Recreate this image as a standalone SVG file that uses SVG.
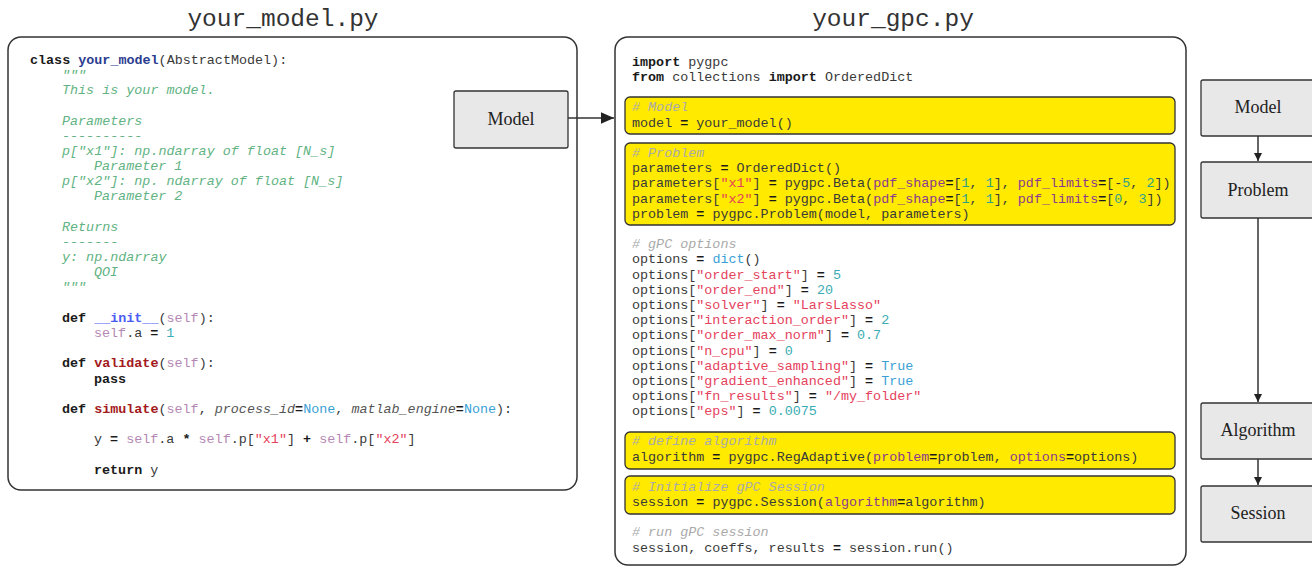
<svg xmlns="http://www.w3.org/2000/svg" width="1312" height="568" viewBox="0 0 1312 568">
<defs>
<style>
.code{font-family:"Liberation Mono",monospace;font-size:13.4px;fill:#3a3a3a}
.title{font-family:"Liberation Mono",monospace;font-size:24.5px;fill:#333;text-anchor:middle}
.lbl{font-family:"Liberation Serif","DejaVu Serif",serif;font-size:18px;fill:#222;text-anchor:middle}
.b{font-weight:bold;fill:#1a1a1a}
.doc{fill:#62b383;font-style:italic}
.cm{fill:#aaaaaa;font-style:italic}
.cls{fill:#2b3d8f;font-weight:bold}
.ini{fill:#4b5cf5;font-weight:bold}
.fn{fill:#a3191c;font-weight:bold}
.slf{fill:#b487b4}
.num{fill:#3aacb4}
.nn{fill:#2ea08a}
.non{fill:#3b9fd6}
.str{fill:#e5425c}
.kw{fill:#8b3a8f}
.it{font-style:italic;fill:#555}
.frame{fill:#fff;stroke:#333;stroke-width:1.5}
.hl{fill:#ffea00;stroke:#333;stroke-width:1.3}
.node{fill:#e8e8e8;stroke:#333;stroke-width:1.3}
.conn{stroke:#333;stroke-width:1.5;fill:none}
</style>
<marker id="ah" viewBox="0 0 10 10" refX="10" refY="5" markerWidth="8" markerHeight="9" markerUnits="userSpaceOnUse" orient="auto">
<path d="M0,0 L10,5 L0,10 z" fill="#222"/>
</marker>
<marker id="ahL" viewBox="0 0 10 10" refX="10" refY="5" markerWidth="15" markerHeight="13" markerUnits="userSpaceOnUse" orient="auto">
<path d="M0,0.5 L10,5 L0,9.5 z" fill="#222"/>
</marker>
</defs>

<g id="titles">
<text class="title" x="283" y="26">your_model.py</text>
<text class="title" x="893" y="26">your_gpc.py</text>
</g>

<g id="your_model_py">
<rect class="frame" x="8" y="37" width="569" height="453" rx="13"/>
<text class="code" xml:space="preserve">
<tspan x="30" y="64"><tspan class="b">class</tspan> <tspan class="cls">your_model</tspan>(AbstractModel):</tspan>
<tspan x="62" y="79" class="doc">"""</tspan>
<tspan x="62" y="94" class="doc">This is your model.</tspan>
<tspan x="62" y="125" class="doc">Parameters</tspan>
<tspan x="62" y="140" class="doc">----------</tspan>
<tspan x="62" y="155" class="doc">p["x1"]: np.ndarray of float [N_s]</tspan>
<tspan x="94" y="170" class="doc">Parameter 1</tspan>
<tspan x="62" y="185" class="doc">p["x2"]: np. ndarray of float [N_s]</tspan>
<tspan x="94" y="200" class="doc">Parameter 2</tspan>
<tspan x="62" y="231" class="doc">Returns</tspan>
<tspan x="62" y="246" class="doc">-------</tspan>
<tspan x="62" y="261" class="doc">y: np.ndarray</tspan>
<tspan x="94" y="276" class="doc">QOI</tspan>
<tspan x="62" y="291" class="doc">"""</tspan>
<tspan x="62" y="322"><tspan class="b">def</tspan> <tspan class="ini">__init__</tspan>(<tspan class="slf">self</tspan>):</tspan>
<tspan x="94" y="337"><tspan class="slf">self</tspan>.a <tspan class="b">=</tspan> <tspan class="num">1</tspan></tspan>
<tspan x="62" y="367"><tspan class="b">def</tspan> <tspan class="fn">validate</tspan>(<tspan class="slf">self</tspan>):</tspan>
<tspan x="94" y="383" class="b">pass</tspan>
<tspan x="62" y="413"><tspan class="b">def</tspan> <tspan class="fn">simulate</tspan>(<tspan class="slf">self</tspan>, <tspan class="it">process_id</tspan><tspan class="b">=</tspan><tspan class="non">None</tspan>, <tspan class="it">matlab_engine</tspan><tspan class="b">=</tspan><tspan class="non">None</tspan>):</tspan>
<tspan x="94" y="443">y <tspan class="b">=</tspan> <tspan class="slf">self</tspan>.a <tspan class="b">*</tspan> <tspan class="slf">self</tspan>.p[<tspan class="str">"x1"</tspan>] <tspan class="b">+</tspan> <tspan class="slf">self</tspan>.p[<tspan class="str">"x2"</tspan>]</tspan>
<tspan x="94" y="474"><tspan class="b">return</tspan> y</tspan>
</text>
</g>

<g id="node_model_left">
<rect class="node" x="454" y="91" width="114" height="57" rx="2"/>
<text class="lbl" x="511" y="125">Model</text>
</g>

<g id="your_gpc_py">
<rect class="frame" x="615" y="37" width="571" height="528" rx="13"/>
<rect class="hl" x="625" y="97" width="550" height="37" rx="5"/>
<rect class="hl" x="625" y="143" width="550" height="82" rx="5"/>
<rect class="hl" x="625" y="432" width="550" height="37" rx="5"/>
<rect class="hl" x="625" y="476" width="550" height="38" rx="5"/>
<text class="code" xml:space="preserve">
<tspan x="632" y="66"><tspan class="b">import</tspan> pygpc</tspan>
<tspan x="632" y="81"><tspan class="b">from</tspan> collections <tspan class="b">import</tspan> OrderedDict</tspan>
<tspan x="632" y="111" class="cm"># Model</tspan>
<tspan x="632" y="127">model <tspan class="b">=</tspan> your_model()</tspan>
<tspan x="632" y="157" class="cm"># Problem</tspan>
<tspan x="632" y="172">parameters <tspan class="b">=</tspan> OrderedDict()</tspan>
<tspan x="632" y="187">parameters[<tspan class="str">"x1"</tspan>] <tspan class="b">=</tspan> pygpc.Beta(<tspan class="kw">pdf_shape</tspan><tspan class="b">=</tspan>[<tspan class="nn">1</tspan>, <tspan class="nn">1</tspan>], <tspan class="kw">pdf_limits</tspan><tspan class="b">=</tspan>[-<tspan class="nn">5</tspan>, <tspan class="nn">2</tspan>])</tspan>
<tspan x="632" y="203">parameters[<tspan class="str">"x2"</tspan>] <tspan class="b">=</tspan> pygpc.Beta(<tspan class="kw">pdf_shape</tspan><tspan class="b">=</tspan>[<tspan class="nn">1</tspan>, <tspan class="nn">1</tspan>], <tspan class="kw">pdf_limits</tspan><tspan class="b">=</tspan>[<tspan class="nn">0</tspan>, <tspan class="nn">3</tspan>])</tspan>
<tspan x="632" y="218">problem <tspan class="b">=</tspan> pygpc.Problem(model, parameters)</tspan>
<tspan x="632" y="248" class="cm"># gPC options</tspan>
<tspan x="632" y="263">options <tspan class="b">=</tspan> <tspan class="non">dict</tspan>()</tspan>
<tspan x="632" y="279">options[<tspan class="str">"order_start"</tspan>] <tspan class="b">=</tspan> <tspan class="num">5</tspan></tspan>
<tspan x="632" y="294">options[<tspan class="str">"order_end"</tspan>] <tspan class="b">=</tspan> <tspan class="num">20</tspan></tspan>
<tspan x="632" y="309">options[<tspan class="str">"solver"</tspan>] <tspan class="b">=</tspan> <tspan class="str">"LarsLasso"</tspan></tspan>
<tspan x="632" y="324">options[<tspan class="str">"interaction_order"</tspan>] <tspan class="b">=</tspan> <tspan class="num">2</tspan></tspan>
<tspan x="632" y="339">options[<tspan class="str">"order_max_norm"</tspan>] <tspan class="b">=</tspan> <tspan class="num">0.7</tspan></tspan>
<tspan x="632" y="355">options[<tspan class="str">"n_cpu"</tspan>] <tspan class="b">=</tspan> <tspan class="num">0</tspan></tspan>
<tspan x="632" y="370">options[<tspan class="str">"adaptive_sampling"</tspan>] <tspan class="b">=</tspan> <tspan class="non">True</tspan></tspan>
<tspan x="632" y="385">options[<tspan class="str">"gradient_enhanced"</tspan>] <tspan class="b">=</tspan> <tspan class="non">True</tspan></tspan>
<tspan x="632" y="400">options[<tspan class="str">"fn_results"</tspan>] <tspan class="b">=</tspan> <tspan class="str">"/my_folder"</tspan></tspan>
<tspan x="632" y="415">options[<tspan class="str">"eps"</tspan>] <tspan class="b">=</tspan> <tspan class="num">0.0075</tspan></tspan>
<tspan x="632" y="445" class="cm"># define algorithm</tspan>
<tspan x="632" y="461">algorithm <tspan class="b">=</tspan> pygpc.RegAdaptive(<tspan class="kw">problem</tspan><tspan class="b">=</tspan>problem, <tspan class="kw">options</tspan><tspan class="b">=</tspan>options)</tspan>
<tspan x="632" y="491" class="cm"># Initialize gPC Session</tspan>
<tspan x="632" y="506">session <tspan class="b">=</tspan> pygpc.Session(<tspan class="kw">algorithm</tspan><tspan class="b">=</tspan>algorithm)</tspan>
<tspan x="632" y="536" class="cm"># run gPC session</tspan>
<tspan x="632" y="552">session, coeffs, results <tspan class="b">=</tspan> session.run()</tspan>
</text>
</g>

<g id="node_model">
<rect class="node" x="1201" y="80" width="114" height="56" rx="2"/>
<text class="lbl" x="1258" y="113">Model</text>
</g>
<g id="node_problem">
<rect class="node" x="1201" y="162" width="114" height="56" rx="2"/>
<text class="lbl" x="1258" y="196">Problem</text>
</g>
<g id="node_algorithm">
<rect class="node" x="1201" y="403" width="114" height="56" rx="2"/>
<text class="lbl" x="1258" y="436">Algorithm</text>
</g>
<g id="node_session">
<rect class="node" x="1201" y="486" width="114" height="56" rx="2"/>
<text class="lbl" x="1258" y="519">Session</text>
</g>

<g id="connectors">
<line class="conn" x1="568" y1="118" x2="614" y2="118" marker-end="url(#ahL)"/>
<line class="conn" x1="1258" y1="136" x2="1258" y2="161" marker-end="url(#ah)"/>
<line class="conn" x1="1258" y1="218" x2="1258" y2="402" marker-end="url(#ah)"/>
<line class="conn" x1="1258" y1="459" x2="1258" y2="485" marker-end="url(#ah)"/>
</g>
</svg>
